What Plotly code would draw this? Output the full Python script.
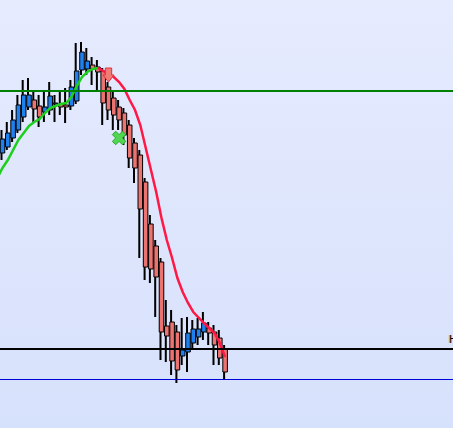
import base64
import plotly.graph_objects as go

# ---- data -------------------------------------------------------------
bar_index = list(range(43))
open_ = [2275, 2281, 2290, 2298, 2311, 2321, 2328, 2322, 2316, 2318,
         2324, 2324, 2323, 2322, 2327, 2358, 2359, 2363, 2361, 2357,
         2341, 2330, 2321, 2315, 2303, 2285, 2273, 2246, 2204, 2182,
         2166, 2102, 2106, 2096, 2072, 2076, 2085, 2091, 2096, 2100,
         2096, 2090, 2079]
high = [2298, 2306, 2318, 2333, 2348, 2350, 2336, 2333, 2336, 2346,
        2333, 2336, 2340, 2348, 2385, 2386, 2380, 2371, 2368, 2360,
        2346, 2338, 2328, 2320, 2308, 2290, 2278, 2250, 2213, 2188,
        2170, 2128, 2118, 2103, 2110, 2111, 2108, 2110, 2116, 2106,
        2103, 2098, 2083]
low = [2268, 2278, 2286, 2295, 2306, 2318, 2306, 2301, 2306, 2313,
       2306, 2313, 2305, 2318, 2324, 2353, 2353, 2343, 2338, 2303,
       2308, 2298, 2298, 2283, 2260, 2245, 2170, 2148, 2145, 2111,
       2068, 2066, 2053, 2045, 2063, 2056, 2080, 2083, 2088, 2083,
       2063, 2063, 2048]
close = [2289, 2295, 2308, 2323, 2333, 2333, 2319, 2311, 2321, 2332,
         2325, 2321, 2321, 2341, 2357, 2376, 2367, 2359, 2356, 2325,
         2318, 2313, 2308, 2293, 2270, 2260, 2219, 2161, 2159, 2151,
         2096, 2092, 2067, 2058, 2078, 2095, 2099, 2099, 2105, 2095,
         2083, 2070, 2056]

ma_index = list(range(-1, 43))
ma_values = [2250, 2260, 2268, 2278, 2288, 2295, 2302, 2306, 2309, 2315,
             2320, 2322, 2324, 2325, 2331, 2342, 2351, 2356, 2359, 2360,
             2357, 2354, 2351, 2346, 2339, 2328, 2318, 2303, 2280, 2260,
             2236, 2210, 2188, 2170, 2150, 2136, 2125, 2116, 2110, 2105,
             2100, 2095, 2085, 2071]
ma_turn_index = 18          # MA turns from rising (green) to falling (red)

resistance_level = 2337     # green line
support_level = 2079        # black line
low_level = 2048.5          # blue line
level_label = "H"

sell_index = [20]
sell_price = [2346]
exit_index = [22]
exit_price = [2290]

# ---- styling ----------------------------------------------------------
UP = "#1f80f0"
DOWN = "#ec7470"

body_base = [min(o, c) for o, c in zip(open_, close)]
body_h = [max(abs(c - o), 0.8) for o, c in zip(open_, close)]
body_col = [UP if c >= o else DOWN for o, c in zip(open_, close)]
wick_h = [h - l for h, l in zip(high, low)]

fig = go.Figure()

# wicks (drawn first, below the bodies)
fig.add_trace(go.Bar(x=bar_index, y=wick_h, base=low, width=0.38, offset=-0.38,
                     marker=dict(color="black", line=dict(width=0)),
                     hoverinfo="skip", showlegend=False))
# bodies
fig.add_trace(go.Bar(x=bar_index, y=body_h, base=body_base, width=0.86, offset=-0.43,
                     marker=dict(color=body_col, line=dict(color="black", width=1)),
                     hoverinfo="skip", showlegend=False))

k = ma_index.index(ma_turn_index)
fig.add_trace(go.Scatter(x=ma_index[:k + 1], y=ma_values[:k + 1], mode="lines",
                         line=dict(color="#1ed01e", width=2.5), hoverinfo="skip",
                         showlegend=False))
fig.add_trace(go.Scatter(x=ma_index[k:], y=ma_values[k:], mode="lines",
                         line=dict(color="#ff1846", width=2.5), hoverinfo="skip",
                         showlegend=False))

# sell signal: block arrow whose tip sits on the signal price
HW, SW, HL, TL = 1.05, 0.6, 7, 14   # head half-width, shaft half-width (x units); head / total length (price units)
for xi, yp in zip(sell_index, sell_price):
    ax_ = [xi, xi - HW, xi - SW, xi - SW, xi + SW, xi + SW, xi + HW, xi]
    ay_ = [yp, yp + HL, yp + HL, yp + TL, yp + TL, yp + HL, yp + HL, yp]
    fig.add_trace(go.Scatter(x=ax_, y=ay_, mode="lines", fill="toself",
                             fillcolor="#f07c78", line=dict(color="#e2303c", width=1),
                             hoverinfo="skip", showlegend=False))

fig.add_trace(go.Scatter(x=exit_index, y=exit_price, mode="markers",
                         marker=dict(symbol="x", size=12, color="#52d652",
                                     line=dict(color="#2aa82a", width=1)),
                         hoverinfo="skip", showlegend=False))

for lvl, col, w in [(resistance_level, "#008000", 2),
                    (support_level, "black", 2),
                    (low_level, "#0000dd", 1)]:
    fig.add_shape(type="line", xref="paper", x0=0, x1=1, yref="y", y0=lvl, y1=lvl,
                  line=dict(color=col, width=w), layer="above")

annotations = [dict(x=447 / 453, y=support_level, xref="paper", yref="y",
                    xanchor="left", yanchor="bottom", text=level_label,
                    showarrow=False, yshift=1,
                    font=dict(family="DejaVu Sans", size=11, color="black",
                              shadow="-1px 0px 0px #ff9a20"))]

svg = ('<svg xmlns="http://www.w3.org/2000/svg" width="10" height="100" '
       'preserveAspectRatio="none"><defs><linearGradient id="g" x1="0" y1="0" '
       'x2="0" y2="1"><stop offset="0" stop-color="#e6ebfe"/>'
       '<stop offset="1" stop-color="#d6e1fb"/></linearGradient></defs>'
       '<rect width="10" height="100" fill="url(#g)"/></svg>')
bg_src = "data:image/svg+xml;base64," + base64.b64encode(svg.encode()).decode()

fig.update_layout(
    width=453, height=428,
    margin=dict(l=0, r=0, t=0, b=0),
    barmode="overlay",
    paper_bgcolor="#e0e8fd",
    plot_bgcolor="rgba(0,0,0,0)",
    images=[dict(source=bg_src, xref="paper", yref="paper", x=0, y=1,
                 sizex=1, sizey=1, sizing="stretch", layer="below",
                 xanchor="left", yanchor="top")],
    annotations=annotations,
    xaxis=dict(range=[-0.4717, 85.0], visible=False, fixedrange=True),
    yaxis=dict(range=[2000, 2428], visible=False, fixedrange=True),
    showlegend=False,
)

fig.write_html(
    "out.html",
    config={"displayModeBar": False, "staticPlot": True},
    post_script="document.body.style.margin='0px';document.body.style.padding='0px';"
                "document.body.style.overflow='hidden';",
)
